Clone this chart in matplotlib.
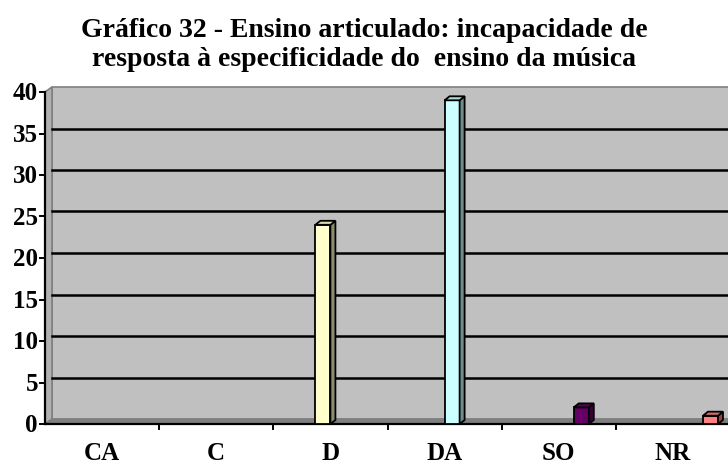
import matplotlib
matplotlib.use("Agg")
import matplotlib.pyplot as plt
from matplotlib.patches import Polygon
from matplotlib.transforms import IdentityTransform
import numpy as np

categories = ["CA", "C", "D", "DA", "SO", "NR"]
values = [0, 0, 24, 39, 2, 1]
colors = ["#9999FF", "#993366", "#FFFFCC", "#CCFFFF", "#660066", "#FF8080"]
yticks = [0, 5, 10, 15, 20, 25, 30, 35, 40]
title_lines = ["Gráfico 32 - Ensino articulado: incapacidade de",
               "resposta à especificidade do  ensino da música"]

W, H = 728, 464
fig = plt.figure(figsize=(W / 100, H / 100), dpi=100)
left_px, right_px, top_px, bot_px = 45, 730, 93, 425
ax = fig.add_axes([left_px / W, (H - bot_px) / H, (right_px - left_px) / W, (bot_px - top_px) / H])
ax.set_xlim(0, len(categories))
ax.set_ylim(0, 40)
ax.axis("off")
fig.canvas.draw()

serif = ["Liberation Serif", "DejaVu Serif"]
LBL = 18

def P(x, y, dx=0.0, dy=0.0):
    p = ax.transData.transform((x, y))
    return (p[0] + dx, p[1] + dy)

def poly(pts, fc, ec="black", lw=1.0, z=1):
    fig.patches.append(Polygon(pts, closed=True, facecolor=fc, edgecolor=ec, linewidth=lw,
                               transform=IdentityTransform(), zorder=z, figure=fig))

xmax = len(categories)
WX, WY = 7, 5  # wall depth in px
# back wall
poly([P(0, 0, WX, WY), P(xmax, 0, WX, WY), P(xmax, 40, WX, WY), P(0, 40, WX, WY)], "#C0C0C0", "#808080", 1.2, 1)
# left side wall
poly([P(0, 0), P(0, 0, WX, WY), P(0, 40, WX, WY), P(0, 40)], "#B0B0B0", "#808080", 1.2, 1)
# floor
poly([P(0, 0), P(xmax, 0), P(xmax, 0, WX, WY), P(0, 0, WX, WY)], "#808080", "#808080", 1.0, 1)

# gridlines on back wall
for t in yticks[1:-1]:
    a = P(0, t, WX, WY); b = P(xmax, t, WX, WY)
    fig.lines.append(plt.Line2D([a[0], b[0]], [a[1], b[1]], color="black", lw=1.8,
                                transform=IdentityTransform(), zorder=2))

# axes lines
a = P(0, 0); b = P(0, 40)
fig.lines.append(plt.Line2D([a[0], b[0]], [a[1], b[1]], color="black", lw=1.6, transform=IdentityTransform(), zorder=5))
b2 = P(xmax, 0)
fig.lines.append(plt.Line2D([a[0], b2[0]], [a[1], b2[1]], color="black", lw=1.6, transform=IdentityTransform(), zorder=5))
for t in yticks:
    p = P(0, t)
    fig.lines.append(plt.Line2D([p[0] - 5, p[0]], [p[1], p[1]], color="black", lw=1.4, transform=IdentityTransform(), zorder=5))
    fig.text(p[0] - 7, p[1] - 1, str(t), ha="right", va="center", fontsize=LBL, fontweight="bold",
             family=serif, transform=IdentityTransform())
for i in range(1, xmax):
    p = P(i, 0)
    fig.lines.append(plt.Line2D([p[0], p[0]], [p[1], p[1] - 5], color="black", lw=1.4, transform=IdentityTransform(), zorder=5))
for i, c in enumerate(categories):
    p = P(i + 0.5, 0)
    fig.text(p[0], H - 460, c, ha="center", va="baseline", fontsize=LBL, fontweight="bold",
             family=serif, transform=IdentityTransform())

# bars
w = 0.1316
BX, BY = 5, 4
def shade(hexc, f):
    r, g, b = matplotlib.colors.to_rgb(hexc)
    return (r * f, g * f, b * f)

n = len(categories)
for i, v in enumerate(values):
    if v <= 0:
        continue
    xc = i + 0.5 + (i - (n - 1) / 2) * w
    x0, x1 = xc - w / 2, xc + w / 2
    col = colors[i]
    poly([P(x0, 0), P(x1, 0), P(x1, v), P(x0, v)], col, "black", 1.3, 6)
    poly([P(x1, 0), P(x1, 0, BX, BY), P(x1, v, BX, BY), P(x1, v)], shade(col, 0.55), "black", 1.3, 6)
    poly([P(x0, v), P(x1, v), P(x1, v, BX, BY), P(x0, v, BX, BY)], shade(col, 0.85), "black", 1.3, 6)

for k, (line, base) in enumerate(zip(title_lines, [37, 66])):
    fig.text(364, H - base, line, ha="center", va="baseline", fontsize=20, fontweight="bold",
             family=serif, transform=IdentityTransform())

fig.savefig("out.png", dpi=100)
